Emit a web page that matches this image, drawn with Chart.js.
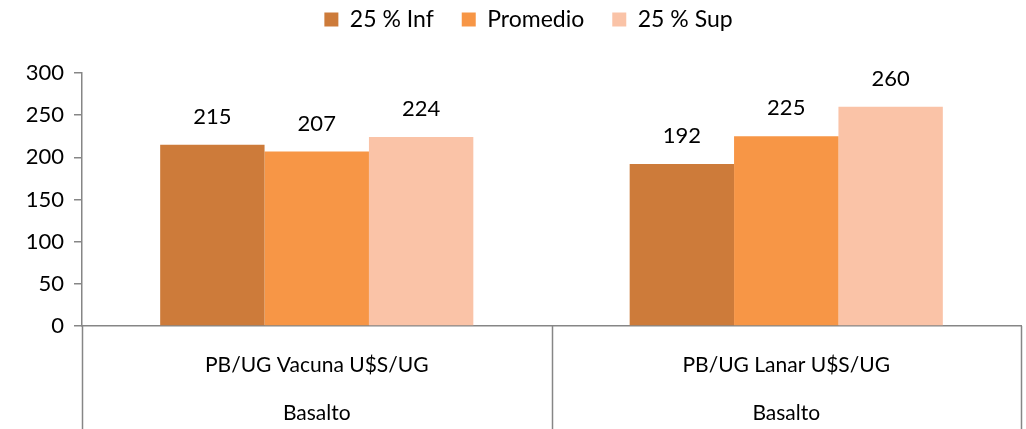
<!DOCTYPE html>
<html>
<head>
<meta charset="utf-8">
<script src="https://cdn.jsdelivr.net/npm/chart.js@4.4.0/dist/chart.umd.min.js"></script>
<style>
  html, body { margin: 0; padding: 0; background: #fff; }
  #wrap { width: 1026px; height: 429px; }
</style>
</head>
<body>
<div id="wrap"><canvas id="canvas"></canvas></div>
<script>
// data
const categories = [['PB/UG Vacuna U$S/UG', 'Basalto'], ['PB/UG Lanar U$S/UG', 'Basalto']];
const seriesNames = ['25 % Inf', 'Promedio', '25 % Sup'];
const infValues = [215, 192];
const promValues = [207, 225];
const supValues = [224, 260];
const yTicks = [0, 50, 100, 150, 200, 250, 300];

const colors = ['#CD7B3A', '#F79646', '#FAC3A7'];
const fontFam = 'Lato, "Open Sans", sans-serif';
const axisGray = '#868686';

// values above each bar
const valueLabels = {
  id: 'valueLabels',
  afterDatasetsDraw(chart) {
    const ctx = chart.ctx;
    ctx.save();
    ctx.font = '22px ' + fontFam;
    ctx.fillStyle = '#000';
    ctx.textAlign = 'center';
    ctx.textBaseline = 'middle';
    chart.data.datasets.forEach(function (ds, i) {
      chart.getDatasetMeta(i).data.forEach(function (bar, j) {
        ctx.fillText(ds.data[j], bar.x, bar.y - 28);
      });
    });
    ctx.restore();
  }
};

// category divider lines under the axis
const dividers = {
  id: 'dividers',
  afterDraw(chart) {
    const ctx = chart.ctx;
    const xs = chart.scales.x;
    const n = chart.data.labels.length;
    const step = (xs.right - xs.left) / n;
    ctx.save();
    ctx.strokeStyle = axisGray;
    ctx.lineWidth = 1.5;
    for (let i = 0; i <= n; i++) {
      const x = Math.round(xs.left + step * i) + 0.5;
      ctx.beginPath();
      ctx.moveTo(x, xs.top);
      ctx.lineTo(x, chart.height);
      ctx.stroke();
    }
    ctx.restore();
  }
};

// extra room under the legend, and nudge it to the right a bit
const legendGap = {
  id: 'legendGap',
  beforeInit(chart) {
    const origFit = chart.legend.fit;
    chart.legend.fit = function () {
      origFit.bind(chart.legend)();
      this.height += 32;
    };
  },
  afterLayout(chart) {
    chart.legend.left += 18;
    chart.legend.right += 18;
  }
};

const data = {
  labels: categories,
  datasets: [
    { label: seriesNames[0], data: infValues, backgroundColor: colors[0] },
    { label: seriesNames[1], data: promValues, backgroundColor: colors[1] },
    { label: seriesNames[2], data: supValues, backgroundColor: colors[2] }
  ]
};

const config = {
  type: 'bar',
  data: data,
  options: {
    responsive: true,
    maintainAspectRatio: false,
    animation: false,
    devicePixelRatio: 1,
    layout: { padding: { left: 0, right: 5, top: -20, bottom: 0 } },
    datasets: { bar: { categoryPercentage: 0.667, barPercentage: 1.0 } },
    plugins: {
      legend: {
        position: 'top',
        labels: {
          font: { family: fontFam, size: 23 },
          color: '#000',
          boxWidth: 14,
          boxHeight: 14,
          padding: 28
        }
      },
      tooltip: { enabled: false }
    },
    scales: {
      x: {
        grid: { display: false },
        border: { display: true, color: axisGray, width: 1.5 },
        ticks: {
          font: { family: fontFam, size: 21, lineHeight: 2.3 },
          color: '#000',
          padding: 7,
          maxRotation: 0,
          autoSkip: false
        },
        afterFit: function (scale) { scale.height = 103; }
      },
      y: {
        min: 0,
        max: 300,
        afterBuildTicks: function (scale) {
          scale.ticks = yTicks.map(function (v) { return { value: v }; });
        },
        grid: {
          drawOnChartArea: false,
          drawTicks: true,
          tickLength: 8,
          color: axisGray,
          lineWidth: 1.5
        },
        border: { display: true, color: axisGray, width: 1.5 },
        ticks: {
          font: { family: fontFam, size: 22 },
          color: '#000',
          padding: 10
        },
        afterFit: function (scale) { scale.width = 82; }
      }
    }
  },
  plugins: [legendGap, valueLabels, dividers]
};

const canvas = document.getElementById('canvas');
const chart = new Chart(canvas, config);
</script>
</body>
</html>
